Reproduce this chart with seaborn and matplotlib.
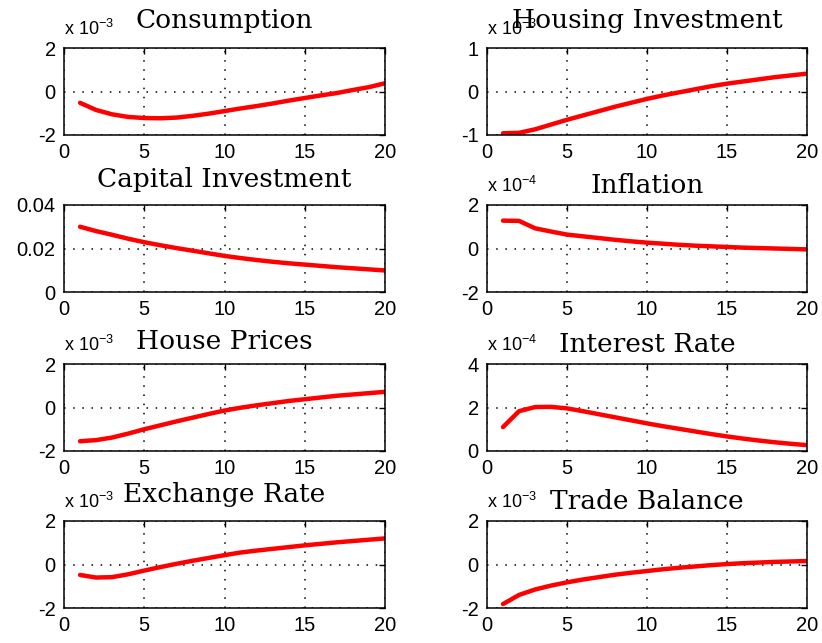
import matplotlib
matplotlib.use("Agg")
import matplotlib.pyplot as plt
import seaborn as sns
import numpy as np
import pandas as pd

sns.set_style("white")
plt.rcParams['font.family'] = ['Liberation Sans', 'DejaVu Sans']
plt.rcParams['mathtext.fontset'] = 'custom'
plt.rcParams['mathtext.rm'] = 'Liberation Sans'
plt.rcParams['mathtext.default'] = 'regular'

periods = list(range(1, 21))

consumption = [-0.52, -0.85, -1.05, -1.17, -1.22, -1.23, -1.20, -1.12, -1.02, -0.90,
               -0.78, -0.67, -0.55, -0.42, -0.30, -0.18, -0.07, 0.07, 0.20, 0.38]
housing_inv = [-0.96, -0.95, -0.87, -0.76, -0.65, -0.55, -0.45, -0.35, -0.26, -0.17,
               -0.09, -0.02, 0.05, 0.12, 0.18, 0.23, 0.28, 0.33, 0.37, 0.41]
capital_inv = [0.0300, 0.0280, 0.0263, 0.0245, 0.0229, 0.0215, 0.0202, 0.0190, 0.0178, 0.0166,
               0.0156, 0.0147, 0.0139, 0.0132, 0.0126, 0.0120, 0.0114, 0.0109, 0.0104, 0.0099]
inflation = [1.28, 1.27, 0.93, 0.78, 0.64, 0.56, 0.48, 0.40, 0.33, 0.27,
             0.22, 0.17, 0.13, 0.10, 0.07, 0.04, 0.02, 0.00, -0.02, -0.04]
house_prices = [-1.55, -1.50, -1.38, -1.20, -1.00, -0.82, -0.64, -0.47, -0.30, -0.14,
                -0.01, 0.10, 0.20, 0.30, 0.38, 0.46, 0.54, 0.60, 0.66, 0.72]
interest_rate = [1.10, 1.83, 2.02, 2.03, 1.96, 1.83, 1.69, 1.55, 1.41, 1.27,
                 1.14, 1.02, 0.90, 0.78, 0.67, 0.57, 0.48, 0.40, 0.33, 0.27]
exchange_rate = [-0.48, -0.60, -0.58, -0.45, -0.28, -0.12, 0.03, 0.17, 0.30, 0.43,
                 0.55, 0.64, 0.72, 0.80, 0.88, 0.95, 1.02, 1.08, 1.14, 1.20]
trade_balance = [-1.82, -1.40, -1.15, -0.97, -0.82, -0.69, -0.58, -0.47, -0.38, -0.30,
                 -0.22, -0.15, -0.09, -0.03, 0.02, 0.06, 0.09, 0.12, 0.14, 0.16]

titles = ["Consumption", "Housing Investment", "Capital Investment", "Inflation",
          "House Prices", "Interest Rate", "Exchange Rate", "Trade Balance"]
series = [consumption, housing_inv, capital_inv, inflation,
          house_prices, interest_rate, exchange_rate, trade_balance]
multipliers = ["-3", "-3", None, "-4", "-3", "-4", "-3", "-3"]
ylims = [(-2, 2), (-1, 1), (0, 0.04), (-2, 2), (-2, 2), (0, 4), (-2, 2), (-2, 2)]
yticks = [[-2, 0, 2], [-1, 0, 1], [0, 0.02, 0.04], [-2, 0, 2],
          [-2, 0, 2], [0, 2, 4], [-2, 0, 2], [-2, 0, 2]]
ytick_labels = [["-2", "0", "2"], ["-1", "0", "1"], ["0", "0.02", "0.04"], ["-2", "0", "2"],
                ["-2", "0", "2"], ["0", "2", "4"], ["-2", "0", "2"], ["-2", "0", "2"]]
xticks = [0, 5, 10, 15, 20]

W, H = 822, 643
fig = plt.figure(figsize=(W / 100, H / 100), dpi=100)

lefts_px = [64, 487]
widths_px = [321, 320]
tops_px = [48, 205, 364, 521]
height_px = 87
title_gap_px = [20, 20, 18, 12, 15, 12, 19, 12]

for i, (title, vals) in enumerate(zip(titles, series)):
    r, c = divmod(i, 2)
    left = lefts_px[c] / W
    width = widths_px[c] / W
    bottom = 1 - (tops_px[r] + height_px) / H
    ax = fig.add_axes([left, bottom, width, height_px / H])
    df = pd.DataFrame({"t": periods, "v": vals})
    sns.lineplot(data=df, x="t", y="v", ax=ax, color="#ff0000", linewidth=3.2)
    ax.set_xlim(0, 20)
    ax.set_ylim(*ylims[i])
    ax.set_xticks(xticks)
    ax.set_xticklabels([str(t) for t in xticks])
    ax.set_yticks(yticks[i])
    ax.set_yticklabels(ytick_labels[i])
    ax.set_xlabel("")
    ax.set_ylabel("")
    ax.grid(True, color="black", linestyle=(0, (1, 5)), linewidth=1.1)
    ax.tick_params(direction="in", length=4, width=1, top=True, right=True,
                   labelsize=14.5, pad=6, colors="black")
    for s in ax.spines.values():
        s.set_visible(True)
        s.set_color("black")
        s.set_linewidth(1.1)
    ax.set_title(title, family="DejaVu Serif", fontsize=19, color="black",
                 pad=title_gap_px[i] * 0.72)
    if multipliers[i] is not None:
        ax.text(0.0, 1.0 + 13 / height_px, "x 10$^{%s}$" % multipliers[i],
                transform=ax.transAxes, fontsize=13, ha="left", va="baseline",
                color="black")

fig.savefig("out.png", dpi=100, facecolor="white")
